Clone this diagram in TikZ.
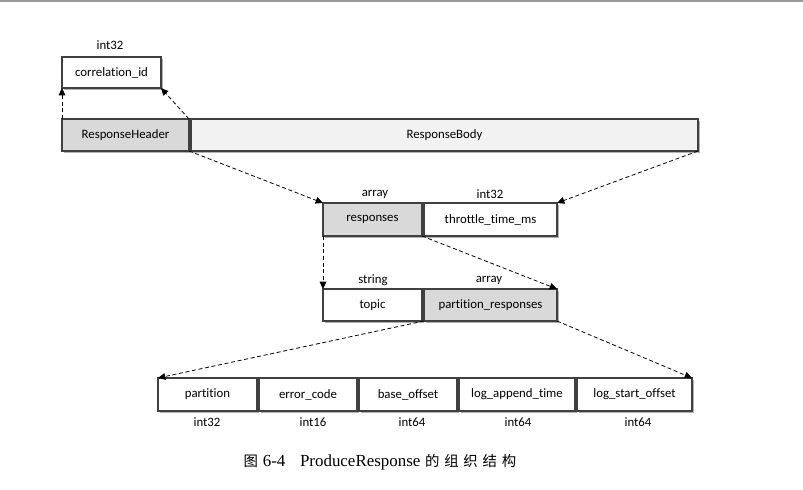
\documentclass[tikz,border=0pt]{standalone}
\usepackage{fontspec}
\setmainfont{Liberation Serif}
\newfontfamily\boxfont[Ligatures={NoCommon,NoRare}]{Carlito}
\newfontfamily\cjk{Noto Sans CJK SC}
\usetikzlibrary{arrows.meta,shadows}
\definecolor{hdrgray}{HTML}{D9D9D9}
\definecolor{bodygray}{HTML}{F2F2F2}
\definecolor{edge}{HTML}{404040}
\definecolor{topline}{HTML}{9A9A9A}
\begin{document}
\begin{tikzpicture}[x=0.75pt,y=-0.75pt,
  fld/.style={draw=edge, line width=0.9pt, fill=white, inner sep=0pt, outer sep=0pt,
    font=\boxfont\fontsize{9.6}{11}\selectfont,
    drop shadow={shadow xshift=1.3pt, shadow yshift=-1.3pt, fill=black, opacity=0.3}},
  sz/.style 2 args={minimum width=#1*0.75pt, minimum height=#2*0.75pt},
  typ/.style={inner sep=0pt, font=\boxfont\fontsize{9.6}{11}\selectfont},
  arr/.style={draw=black, line width=0.6pt, dash pattern=on 3pt off 2pt,
    -{Triangle[length=5.5pt,width=5pt]}},
]
\useasboundingbox (0,0) rectangle (803,489);
\fill[topline] (0,0) rectangle (803,2);

% row 1
\node[fld, sz={99}{31}] (corr) at (111.5,72.5) {correlation\_id};
\node[typ] (corrT) at (110,45) {int32};
% row 2
\node[fld, sz={127}{32}, fill=hdrgray] (hdr) at (125.5,135) {ResponseHeader};
\node[fld, sz={507}{32}, fill=bodygray] (body) at (444.5,135) {ResponseBody};
% row 3
\node[fld, sz={99}{33}, fill=hdrgray] (resp) at (372.5,219.5) {responses};
\node[fld, sz={133}{33}] (thr) at (490.5,219.5) {throttle\_time\_ms};
\node[typ] (respT) at (375,194) {array};
\node[typ] (thrT) at (490,194) {int32};
% row 4
\node[fld, sz={99}{32}] (topic) at (372.5,305) {topic};
\node[fld, sz={133}{32}, fill=hdrgray] (pr) at (490.5,305) {partition\_responses};
\node[typ] (topicT) at (373,280) {string};
\node[typ] (prT) at (489,280) {array};
% row 5
\node[fld, sz={99}{33}] (part) at (207.5,394.5) {partition};
\node[fld, sz={98}{33}] (err) at (308,394.5) {error\_code};
\node[fld, sz={98}{33}] (base) at (408,394.5) {base\_offset};
\node[fld, sz={116}{33}] (lat) at (517,394.5) {log\_append\_time};
\node[fld, sz={115}{33}] (lso) at (634.5,394.5) {log\_start\_offset};
\node[typ] (partT) at (207,422) {int32};
\node[typ] (errT) at (313,422) {int16};
\node[typ] (baseT) at (412,422) {int64};
\node[typ] (latT) at (518,422) {int64};
\node[typ] (lsoT) at (638,422) {int64};

% connectors
\draw[arr] (hdr.north west) -- (corr.south west);
\draw[arr] (hdr.north east) -- (corr.south east);
\draw[arr] (hdr.south east) -- (resp.north west);
\draw[arr] (body.south east) -- (thr.north east);
\draw[arr] (resp.south west) -- (topic.north west);
\draw[arr] (resp.south east) -- (pr.north east);
\draw[arr] (pr.south west) -- (part.north west);
\draw[arr] (pr.south east) -- (lso.north east);

% caption
\node[inner sep=0pt, font=\fontsize{12.7}{15}\selectfont] (cap) at (380,462)
  {{\cjk\fontsize{10.8}{13}\selectfont 图}\hspace{3.5pt}6-4\hspace{11pt}ProduceResponse\hspace{3.5pt}{\cjk\fontsize{10.8}{13}\selectfont 的\hspace{3.6pt}组\hspace{3.6pt}织\hspace{3.6pt}结\hspace{3.6pt}构}};
\end{tikzpicture}
\end{document}
